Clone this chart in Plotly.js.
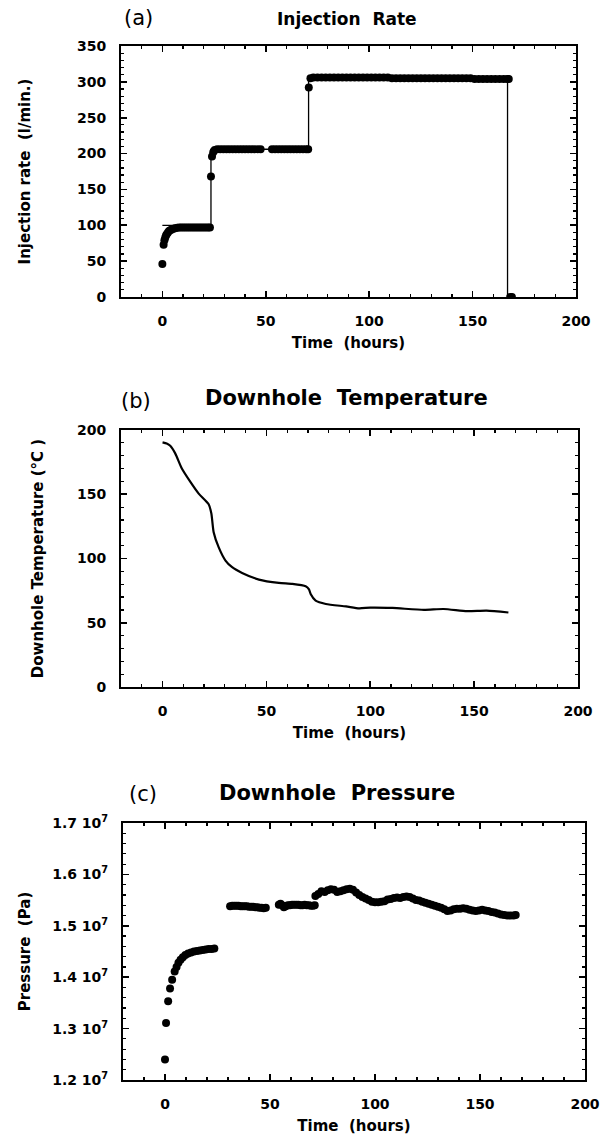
<!DOCTYPE html>
<html><head><meta charset="utf-8">
<script src="https://cdn.plot.ly/plotly-3.0.1.min.js"></script>
<style>html,body{margin:0;padding:0;background:#fff;} #chart{width:615px;height:1141px;}</style>
</head><body><div id="chart"></div>
<script>
// ---- Data ----
// (a) Injection rate measurements (l/min)
const rateTime = [0, 0.6, 1.0, 1.4, 1.8, 2.2, 2.7, 3.2, 3.8, 4.5, 5.3, 6.2, 7.2, 8.2, 9.2, 10.2, 11.2, 12.2, 13.2, 14.2, 15.2, 16.2, 17.2, 18.2, 19.2, 20.2, 21.2, 22.2, 23.0,
  23.5, 24.0, 24.6, 25.3, 26.5, 28, 29.5, 31, 32.5, 34, 35.5, 37, 38.5, 40, 41.5, 43, 44.5, 46, 47.5,
  53, 54.5, 56, 57.5, 59, 60.5, 62, 63.5, 65, 66.5, 68, 69.5, 70.5,
  70.8, 71.6, 73, 75, 77, 79, 81, 83, 85, 87, 89, 91, 93, 95, 97, 99, 101, 103, 105, 107, 109, 111, 113, 115, 117, 119, 121, 123, 125, 127, 129, 131, 133, 135, 137, 139, 141, 143, 145, 147, 149, 151, 153, 155, 157, 159, 161, 163, 165, 166.8,
  167.5, 168.2, 169.0];
const rateValue = [46, 73, 79, 83, 86, 88, 90, 92, 93, 94, 95, 96, 96.5, 97, 97, 97, 97, 97, 97, 97, 97, 97, 97, 97, 97, 97, 97, 97, 97,
  168, 196, 202, 205, 206, 206, 206, 206, 206, 206, 206, 206, 206, 206, 206, 206, 206, 206, 206,
  206, 206, 206, 206, 206, 206, 206, 206, 206, 206, 206, 206, 206,
  292, 305, 306, 306, 306, 306, 306, 306, 306, 306, 306, 306, 306, 306, 306, 306, 306, 306, 306, 306, 306, 305, 305, 305, 305, 305, 305, 305, 305, 305, 305, 305, 305, 305, 305, 305, 305, 305, 305, 305, 305, 304, 304, 304, 304, 304, 304, 304, 304, 304, 304,
  0, 0, 0];
// (a) Rate set-point (thin step line)
const setTime = [0, 23.5, 23.5, 70.7, 70.7, 166.9, 166.9, 169];
const setValue = [100, 100, 206, 206, 306, 306, 0, 0];

// (b) Downhole temperature (deg C)
const tempTime = [0, 2, 3.7, 6.1, 9.3, 13.4, 17.4, 22.2, 23.5, 24.6, 27, 30.3, 33.5, 38.3, 46.4, 56, 62.5, 68.9, 70.5, 71.3, 73.7, 78.6, 88.3, 94.7, 100, 110.7, 125.8, 135.3, 146.6, 156, 166.5];
const tempValue = [190.4, 189.5, 187.7, 181.8, 170, 159.6, 150.5, 142.2, 135, 120.5, 108.8, 98.4, 93.2, 88.8, 83.6, 81, 80.2, 78.4, 76, 72.4, 67.2, 64.6, 62.7, 61.2, 61.8, 61.5, 60, 60.7, 59, 59.4, 58];

// (c) Downhole pressure (Pa)
const presTime = [0, 0.5, 1.5, 2.4, 3.4, 4.6, 5.5, 6.4, 7.4, 8.5, 9.7, 11, 12.4, 13.8, 15.2, 16.6, 18, 19.4, 20.8, 22.2, 23.5,
  31, 32, 33, 34, 35, 36, 37, 38, 39, 40, 41, 42, 43, 44, 45, 46, 47, 48,
  54.2, 55, 55.8, 56.6, 57.5, 58.5, 59.5, 60.5, 61.5, 62.5, 63.5, 64.5, 65.5, 66.5, 67.5, 68.5, 69.5, 70.5, 71.3,
  71.6, 73, 74.5, 76, 77.5, 79, 80.5, 82, 83.5, 85, 86.5, 88, 89.5, 91, 92.5, 94, 95.5, 97, 98.5, 100, 101.5, 103, 104.5, 106, 107.5, 109, 110.5, 112, 113.5, 115, 116.5, 118, 119.5, 121, 122.5, 124, 125.5, 127, 128.5, 130, 131.5, 133, 134.5, 136, 137.5, 139, 140.5, 142, 143.5, 145, 146.5, 148, 149.5, 151, 152.5, 154, 155.5, 157, 158.5, 160, 161.5, 163, 164.5, 166, 167];
const presValue = [1.240e7, 1.311e7, 1.353e7, 1.378e7, 1.395e7, 1.411e7, 1.420e7, 1.428e7, 1.434e7, 1.439e7, 1.443e7, 1.446e7, 1.448e7, 1.450e7, 1.451e7, 1.452e7, 1.453e7, 1.454e7, 1.455e7, 1.455e7, 1.456e7,
  1.538e7, 1.539e7, 1.539e7, 1.539e7, 1.539e7, 1.538e7, 1.538e7, 1.538e7, 1.538e7, 1.537e7, 1.537e7, 1.537e7, 1.536e7, 1.536e7, 1.535e7, 1.535e7, 1.534e7, 1.535e7,
  1.541e7, 1.543e7, 1.540e7, 1.536e7, 1.538e7, 1.540e7, 1.540e7, 1.541e7, 1.541e7, 1.541e7, 1.541e7, 1.540e7, 1.540e7, 1.541e7, 1.540e7, 1.540e7, 1.539e7, 1.539e7, 1.540e7,
  1.558e7, 1.562e7, 1.567e7, 1.566e7, 1.569e7, 1.571e7, 1.570e7, 1.566e7, 1.567e7, 1.569e7, 1.571e7, 1.572e7, 1.570e7, 1.565e7, 1.560e7, 1.556e7, 1.553e7, 1.550e7, 1.547e7, 1.546e7, 1.546e7, 1.547e7, 1.548e7, 1.551e7, 1.552e7, 1.554e7, 1.555e7, 1.554e7, 1.556e7, 1.557e7, 1.556e7, 1.553e7, 1.550e7, 1.549e7, 1.547e7, 1.545e7, 1.543e7, 1.541e7, 1.539e7, 1.537e7, 1.535e7, 1.532e7, 1.529e7, 1.530e7, 1.532e7, 1.533e7, 1.533e7, 1.534e7, 1.533e7, 1.531e7, 1.530e7, 1.529e7, 1.530e7, 1.531e7, 1.530e7, 1.529e7, 1.527e7, 1.526e7, 1.524e7, 1.522e7, 1.521e7, 1.520e7, 1.520e7, 1.520e7, 1.521e7];
const presTickVals = [1.2e7, 1.3e7, 1.4e7, 1.5e7, 1.6e7, 1.7e7];
const presTickText = ['1.2 10<sup>7</sup>', '1.3 10<sup>7</sup>', '1.4 10<sup>7</sup>', '1.5 10<sup>7</sup>', '1.6 10<sup>7</sup>', '1.7 10<sup>7</sup>'];

// ---- Layout helpers ----
const W = 615, H = 1141;
const FONT = 'DejaVu Sans, Verdana, sans-serif';
function dx(a, b) { return [a / W, b / W]; }
function dy(top, bottom) { return [1 - bottom / H, 1 - top / H]; }
const tickFont = {family: FONT, size: 14, color: '#000', weight: 'bold'};
const titleFont = {family: FONT, size: 15, color: '#000', weight: 'bold'};

function baseAxis(extra) {
  return Object.assign({
    ticks: 'inside', ticklen: 6, tickwidth: 1.6, tickcolor: '#000',
    showline: true, linecolor: '#000', linewidth: 2, mirror: 'ticks',
    showgrid: false, zeroline: false, tickfont: tickFont, ticklabelstandoff: 10,
    fixedrange: true
  }, extra);
}
function xAxis(domain, anchor, standoff) {
  return baseAxis({domain: domain, anchor: anchor, range: [-20, 200], tickmode: 'linear', tick0: 0, dtick: 50,
    minor: {tick0: 0, dtick: 10, ticks: 'inside', ticklen: 3, tickwidth: 1.2, tickcolor: '#000', showgrid: false},
    title: {text: 'Time\u00a0 (hours)', font: titleFont, standoff: standoff}});
}

const traces = [
  {x: setTime, y: setValue, mode: 'lines', line: {color: '#000', width: 1.3}, xaxis: 'x', yaxis: 'y', hoverinfo: 'skip'},
  {x: rateTime, y: rateValue, mode: 'markers', marker: {color: '#000', size: 8}, xaxis: 'x', yaxis: 'y'},
  {x: tempTime, y: tempValue, mode: 'lines', line: {color: '#000', width: 2.2, shape: 'spline', smoothing: 0.6}, xaxis: 'x2', yaxis: 'y2'},
  {x: presTime, y: presValue, mode: 'markers', marker: {color: '#000', size: 8}, xaxis: 'x3', yaxis: 'y3'}
];

const layout = {
  width: W, height: H, showlegend: false,
  margin: {l: 0, r: 0, t: 0, b: 0},
  paper_bgcolor: '#fff', plot_bgcolor: '#fff',
  font: {family: FONT, color: '#000'},
  xaxis: xAxis(dx(121, 576), 'y', 10),
  yaxis: baseAxis({domain: dy(46, 297), anchor: 'x', range: [0, 350], tickmode: 'linear', tick0: 0, dtick: 50,
    minor: {tick0: 0, dtick: 10, ticks: 'inside', ticklen: 3, tickwidth: 1.2, tickcolor: '#000', showgrid: false},
    title: {text: 'Injection rate\u00a0 (l/min.)', font: titleFont, standoff: 43}}),
  xaxis2: xAxis(dx(121, 578), 'y2', 10),
  yaxis2: baseAxis({domain: dy(430, 687), anchor: 'x2', range: [0, 200], tickmode: 'linear', tick0: 0, dtick: 50,
    minor: {tick0: 0, dtick: 10, ticks: 'inside', ticklen: 3, tickwidth: 1.2, tickcolor: '#000', showgrid: false},
    title: {text: 'Downhole Temperature (°C )', font: titleFont, standoff: 30}}),
  xaxis3: xAxis(dx(123, 585), 'y3', 10),
  yaxis3: baseAxis({domain: dy(823, 1080), anchor: 'x3', range: [1.2e7, 1.7e7], tickmode: 'array',
    tickvals: presTickVals, ticktext: presTickText,
    minor: {tick0: 1.2e7, dtick: 2e5, ticks: 'inside', ticklen: 3, tickwidth: 1.2, tickcolor: '#000', showgrid: false},
    title: {text: 'Pressure\u00a0 (Pa)', font: titleFont, standoff: 18}}),
  annotations: [
    {text: '(a)', xref: 'paper', yref: 'paper', x: 138 / W, y: 1 - 18 / H, xanchor: 'center', yanchor: 'middle', showarrow: false, font: {family: FONT, size: 21, color: '#000'}},
    {text: 'Injection\u00a0 Rate', xref: 'paper', yref: 'paper', x: 347 / W, y: 1 - 19 / H, xanchor: 'center', yanchor: 'middle', showarrow: false, font: {family: FONT, size: 17, color: '#000', weight: 'bold'}},
    {text: '(b)', xref: 'paper', yref: 'paper', x: 136 / W, y: 1 - 401 / H, xanchor: 'center', yanchor: 'middle', showarrow: false, font: {family: FONT, size: 21, color: '#000'}},
    {text: 'Downhole\u00a0 Temperature', xref: 'paper', yref: 'paper', x: 346 / W, y: 1 - 398 / H, xanchor: 'center', yanchor: 'middle', showarrow: false, font: {family: FONT, size: 21, color: '#000', weight: 'bold'}},
    {text: '(c)', xref: 'paper', yref: 'paper', x: 143 / W, y: 1 - 794 / H, xanchor: 'center', yanchor: 'middle', showarrow: false, font: {family: FONT, size: 21, color: '#000'}},
    {text: 'Downhole\u00a0 Pressure', xref: 'paper', yref: 'paper', x: 337 / W, y: 1 - 793 / H, xanchor: 'center', yanchor: 'middle', showarrow: false, font: {family: FONT, size: 21, color: '#000', weight: 'bold'}}
  ]
};

Plotly.newPlot('chart', traces, layout, {displayModeBar: false, staticPlot: true});
</script>
</body></html>
